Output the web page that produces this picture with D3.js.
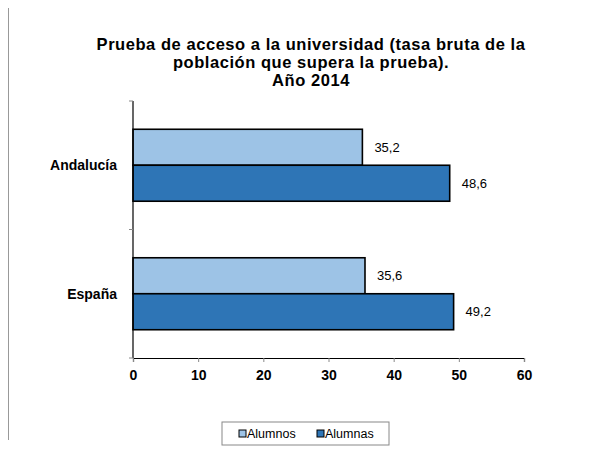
<!DOCTYPE html>
<head>
<meta charset="utf-8">
<script src="https://d3js.org/d3.v7.min.js"></script>
</head>
<style>
body { margin: 0; background: #fff; }
text { font-family: "Liberation Sans", Arial, sans-serif; }
</style>
<body>
<script>
var categories = ["Andalucía", "España"];
var seriesNames = ["Alumnos", "Alumnas"];
var alumnos = [35.2, 35.6];
var alumnas = [48.6, 49.2];
var xTicks = [0, 10, 20, 30, 40, 50, 60];
var colors = ["#9dc3e6", "#2e75b6"];
var titleLines = ["Prueba de acceso a la universidad (tasa bruta de la",
                  "población que supera la prueba).",
                  "Año 2014"];

var width = 589, height = 450;
var margin = {top: 101, left: 133, right: 65, bottom: 92};
var innerW = width - margin.left - margin.right,
    innerH = height - margin.top - margin.bottom;

var svg = d3.select("body").append("svg")
    .attr("width", width)
    .attr("height", height);

// left border line of the page
svg.append("line")
    .attr("x1", 8.5).attr("x2", 8.5).attr("y1", 8).attr("y2", 440)
    .attr("stroke", "#999").attr("stroke-width", 1);

svg.append("text")
    .attr("text-anchor", "middle")
    .style("font-weight", "bold").style("font-size", "16.5px")
    .style("letter-spacing", "0.55px")
  .selectAll("tspan").data(titleLines).enter().append("tspan")
    .attr("x", 311)
    .attr("y", function(d, i) { return 50 + i * 18; })
    .text(function(d) { return d; });

var x = d3.scaleLinear().domain([0, 60]).range([0, innerW]);
var y = d3.scaleBand().domain(categories).range([0, innerH]).paddingInner(0.44).paddingOuter(0.22);
var ySub = d3.scaleBand().domain(seriesNames).range([0, y.bandwidth()]);

var g = svg.append("g")
    .attr("transform", "translate(" + margin.left + "," + margin.top + ")");

var data = categories.map(function(c, i) {
  return {cat: c, values: [
    {name: seriesNames[0], v: alumnos[i]},
    {name: seriesNames[1], v: alumnas[i]}
  ]};
});

var groups = g.selectAll(".cat").data(data).enter().append("g")
    .attr("transform", function(d) { return "translate(0," + y(d.cat) + ")"; });

groups.selectAll("rect").data(function(d) { return d.values; }).enter().append("rect")
    .attr("x", 0)
    .attr("y", function(d) { return ySub(d.name); })
    .attr("width", function(d) { return x(d.v); })
    .attr("height", ySub.bandwidth())
    .attr("fill", function(d, i) { return colors[i]; })
    .attr("stroke", "#000").attr("stroke-width", 1.6);

groups.selectAll(".val").data(function(d) { return d.values; }).enter().append("text")
    .attr("x", function(d) { return x(d.v) + 12; })
    .attr("y", function(d) { return ySub(d.name) + ySub.bandwidth() / 2; })
    .attr("dy", "0.35em")
    .style("font-size", "13px")
    .text(function(d) { return d3.format(".1f")(d.v).replace(".", ","); });

// x axis
var xAxis = g.append("g")
    .attr("transform", "translate(0," + innerH + ")")
    .call(d3.axisBottom(x).tickValues(xTicks).tickSize(4).tickPadding(8));
xAxis.select(".domain").attr("stroke", "#000").attr("stroke-width", 1.2);
xAxis.selectAll(".tick line").attr("stroke", "#888");
xAxis.selectAll("text")
    .style("font-family", "Liberation Sans, Arial, sans-serif")
    .style("font-size", "14px").style("font-weight", "bold").attr("fill", "#000");

// y axis: boundaries between categories
g.append("line")
    .attr("x1", 0).attr("x2", 0).attr("y1", 0).attr("y2", innerH)
    .attr("stroke", "#000").attr("stroke-width", 1.2);
g.selectAll(".ytick").data([0, innerH / 2, innerH]).enter().append("line")
    .attr("x1", -4).attr("x2", 0)
    .attr("y1", function(d) { return d; }).attr("y2", function(d) { return d; })
    .attr("stroke", "#888");

g.selectAll(".ylab").data(categories).enter().append("text")
    .attr("x", -16)
    .attr("y", function(d) { return y(d) + y.bandwidth() / 2; })
    .attr("dy", "0.35em")
    .attr("text-anchor", "end")
    .style("font-size", "14px").style("font-weight", "bold")
    .text(function(d) { return d; });

// legend
var legend = svg.append("g").attr("transform", "translate(222,422)");
legend.append("rect")
    .attr("width", 167).attr("height", 23)
    .attr("fill", "#fff").attr("stroke", "#888");
var items = legend.selectAll(".item").data(seriesNames).enter().append("g")
    .attr("transform", function(d, i) { return "translate(" + (17 + i * 78) + ",0)"; });
items.append("rect")
    .attr("x", 0).attr("y", 8).attr("width", 7).attr("height", 7)
    .attr("fill", function(d, i) { return colors[i]; })
    .attr("stroke", "#000").attr("stroke-width", 1);
items.append("text")
    .attr("x", 8).attr("y", 16)
    .style("font-size", "12.5px")
    .text(function(d) { return d; });
</script>
</body>
